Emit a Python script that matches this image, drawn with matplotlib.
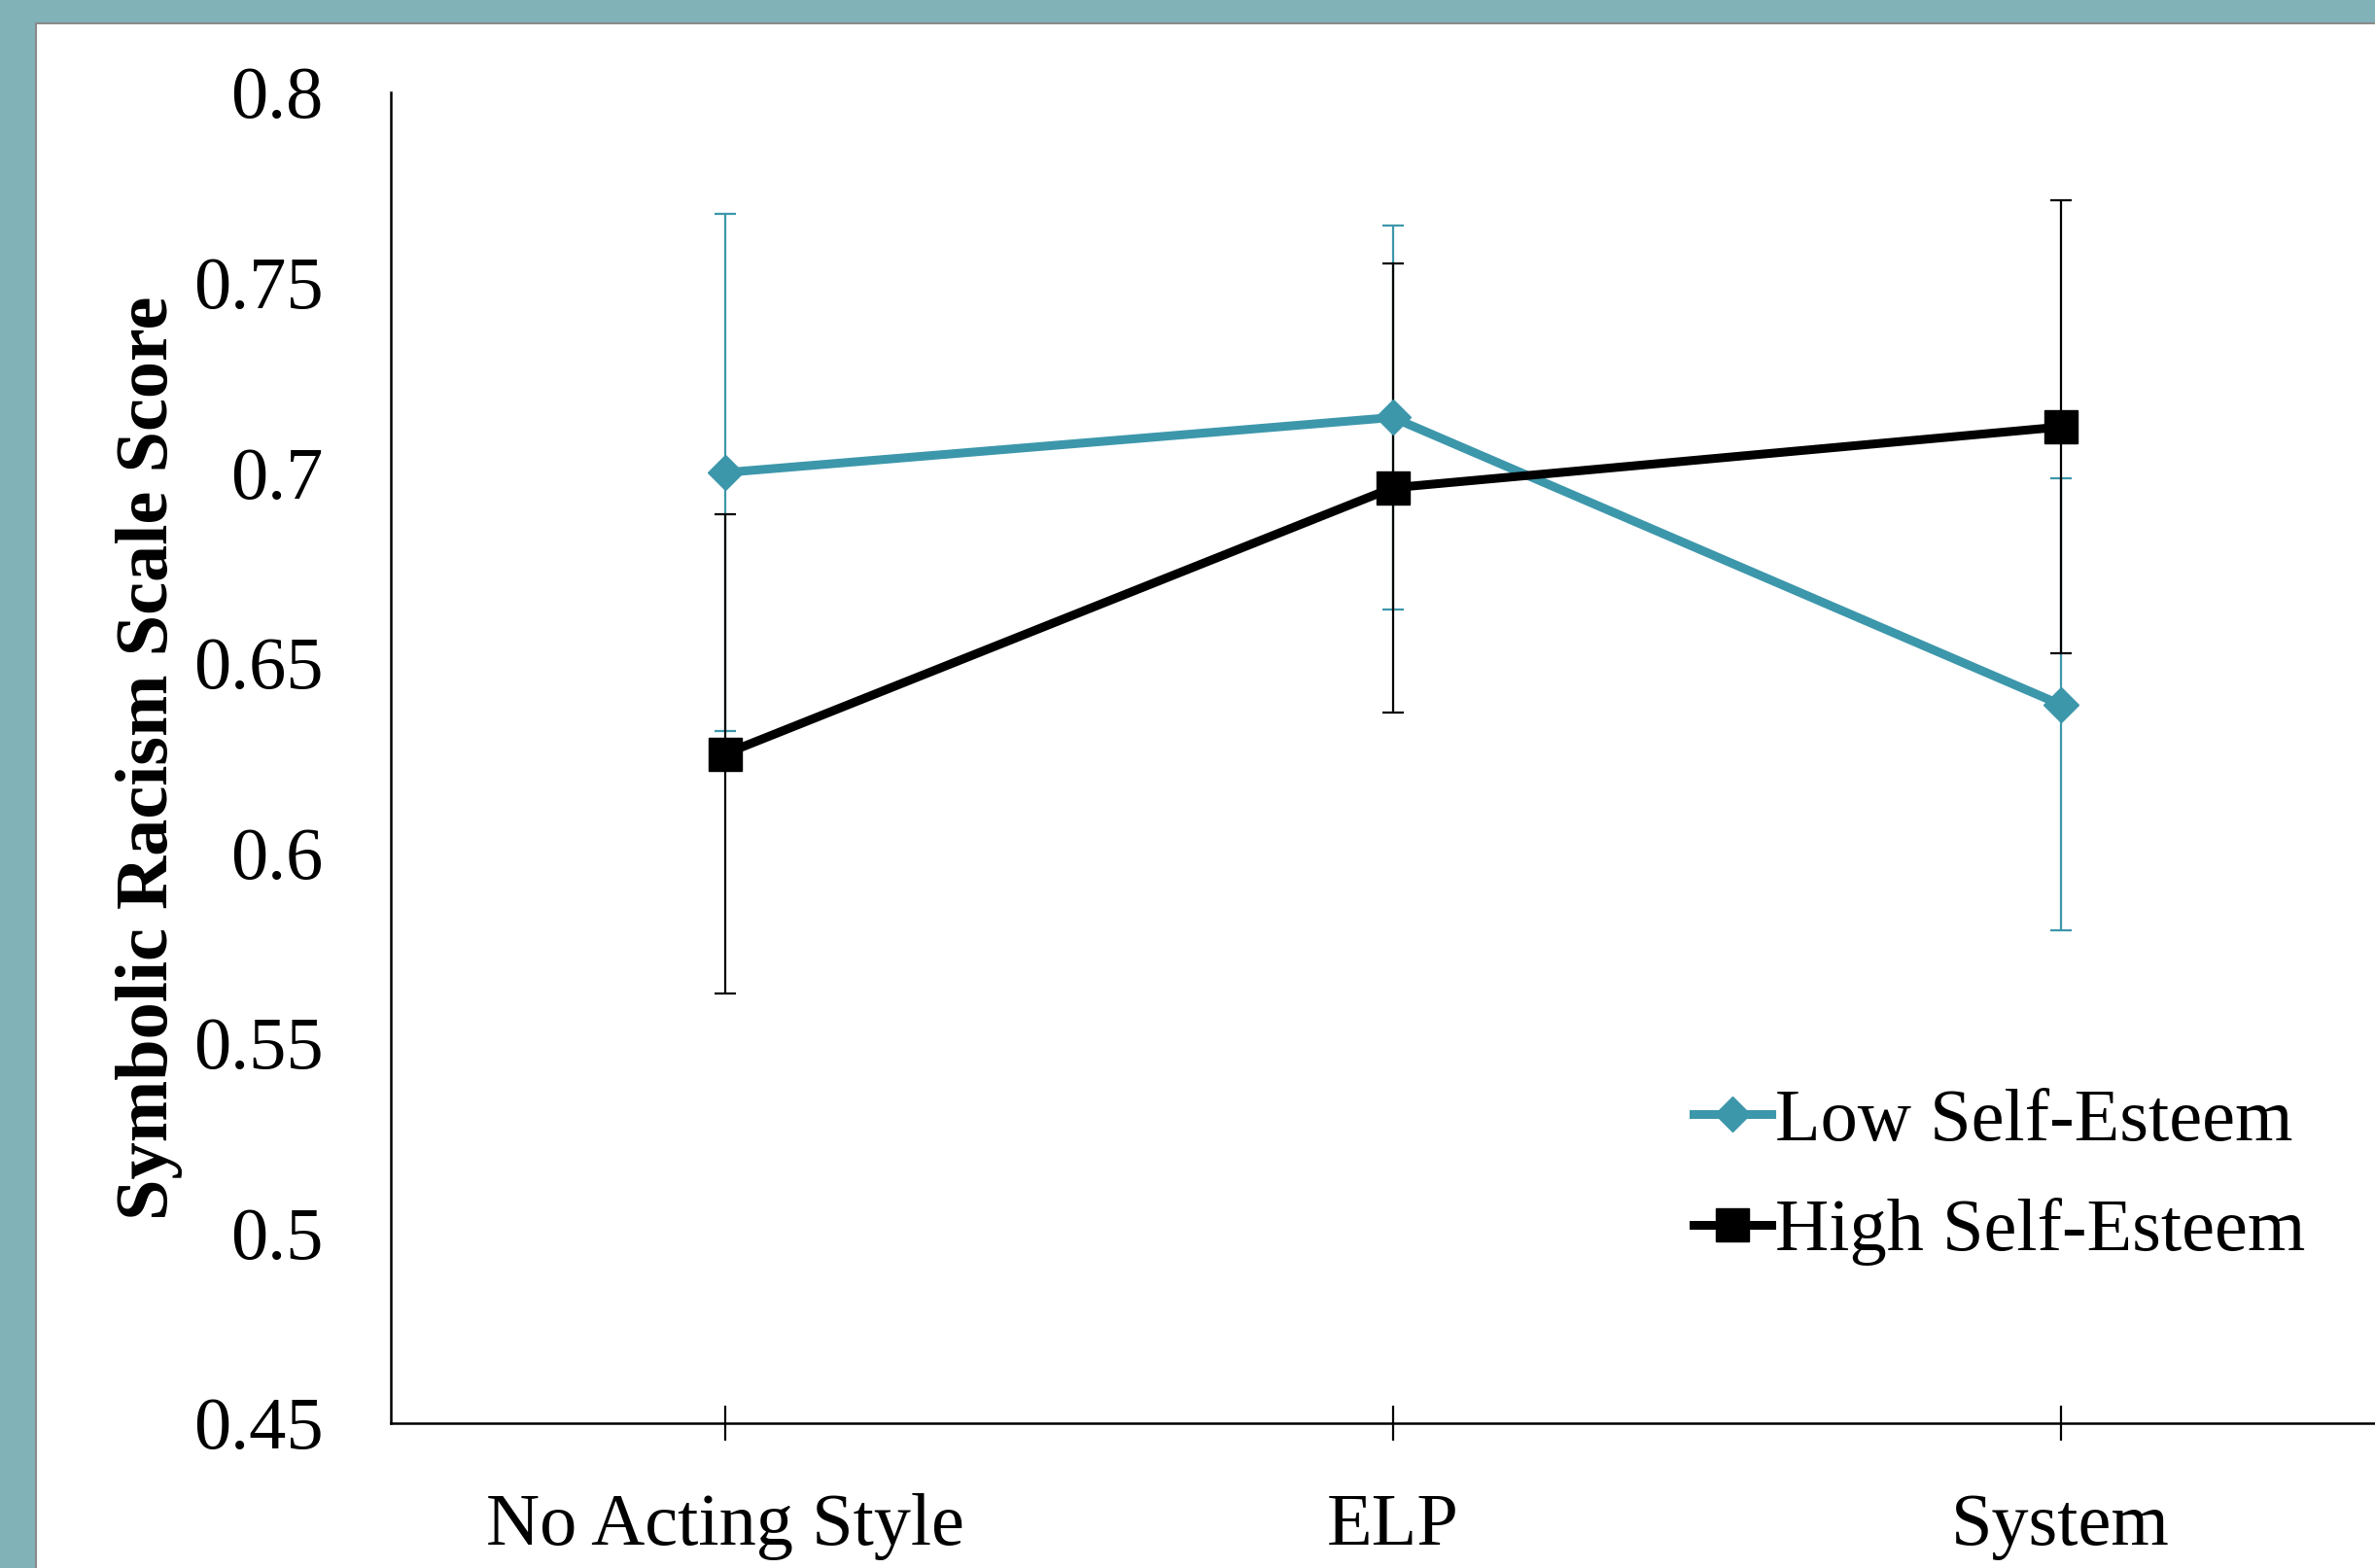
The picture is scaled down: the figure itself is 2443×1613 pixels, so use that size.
import matplotlib
matplotlib.use("Agg")
import matplotlib.pyplot as plt
from matplotlib.patches import Rectangle

categories = ["No Acting Style", "ELP", "System"]
low_vals = [0.700, 0.7145, 0.639]
low_err = [0.068, 0.0505, 0.0595]
high_vals = [0.626, 0.696, 0.712]
high_err = [0.063, 0.059, 0.0595]
yticks = [0.45, 0.5, 0.55, 0.6, 0.65, 0.7, 0.75, 0.8]
ytick_labels = ["0.45", "0.5", "0.55", "0.6", "0.65", "0.7", "0.75", "0.8"]

TEAL = "#3d97ab"
BORDER = "#80b2b7"

plt.rcParams['font.family'] = ['Liberation Serif', 'DejaVu Serif']

W, H = 2443, 1613
fig = plt.figure(figsize=(W / 100, H / 100), dpi=100, facecolor=BORDER)
panel = Rectangle((37 / W, -0.01), 1.02, 1 - 24 / H + 0.01,
                  transform=fig.transFigure, facecolor="white",
                  edgecolor="#8a8a8a", linewidth=1.5, zorder=-10)
fig.patches.append(panel)

ax = fig.add_axes([402 / W, 149 / H, (2463 - 402) / W, (1518 - 149) / H])
ax.set_zorder(1)
ax.set_facecolor("none")
x = list(range(len(categories)))

ax.errorbar(x, low_vals, yerr=low_err, fmt="none", ecolor=TEAL,
            elinewidth=1.6, capsize=8, capthick=1.6, zorder=2)
ax.errorbar(x, high_vals, yerr=high_err, fmt="none", ecolor="black",
            elinewidth=1.6, capsize=8, capthick=1.6, zorder=3)
ax.plot(x, low_vals, color=TEAL, linewidth=6.5, marker="D", markersize=18.5,
        label="Low Self-Esteem", zorder=4)
ax.plot(x, high_vals, color="black", linewidth=6.5, marker="s", markersize=24,
        label="High Self-Esteem", zorder=5)

ax.set_xlim(-0.5, 2.5)
ax.set_ylim(0.45, 0.8)
ax.set_xticks(x)
ax.set_xticklabels(categories, fontsize=55)
ax.set_yticks(yticks)
ax.set_yticklabels(ytick_labels, fontsize=55)
ax.tick_params(axis="y", length=0, pad=50)
ax.tick_params(axis="x", direction="inout", length=26, width=1.6, pad=39)
for s in ["top", "right"]:
    ax.spines[s].set_visible(False)
for s in ["left", "bottom"]:
    ax.spines[s].set_linewidth(1.8)

ax.set_ylabel("Symbolic Racism Scale Score", fontsize=55, fontweight="bold",
              labelpad=8)

leg = fig.legend(loc="center left", bbox_to_anchor=(1742 / W, 402 / H),
                 frameon=False, fontsize=55, handlelength=1.05,
                 handletextpad=0.05, labelspacing=0.57, borderpad=0,
                 borderaxespad=0, markerscale=1.0)
leg.set_zorder(5)

fig.savefig("out.png", dpi=100, facecolor=BORDER)
